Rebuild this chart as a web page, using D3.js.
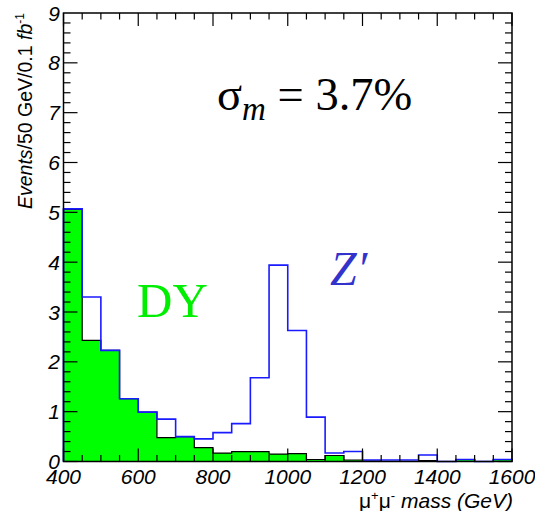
<!DOCTYPE html>
<html><head><meta charset="utf-8">
<script src="https://cdn.jsdelivr.net/npm/d3@7"></script>
<style>body{margin:0;background:#fff}</style>
</head><body>
<script>
const binEdges = [400,450,500,550,600,650,700,750,800,850,900,950,1000,1050,1100,1150,1200,1250,1300,1350,1400,1450,1500,1550,1600];
const dyValues = [5.06,2.43,2.23,1.26,0.99,0.48,0.50,0.28,0.17,0.20,0.20,0.15,0.16,0.04,0.12,0.03,0.01,0,0,0.02,0,0.04,0,0.04];
const totalValues = [5.07,3.30,2.23,1.26,0.99,0.85,0.50,0.455,0.58,0.76,1.68,3.94,2.63,0.89,0.17,0.20,0.03,0.03,0.03,0.13,0,0.04,0,0.04];
const xTicks = [400,600,800,1000,1200,1400,1600];
const yTicks = [0,1,2,3,4,5,6,7,8,9];

const W = 535, H = 511;
const svg = d3.select("body").append("svg").attr("width", W).attr("height", H);
const L = 63.5, R = 512, T = 13, B = 461.5;
const x = d3.scaleLinear().domain([400,1600]).range([L,R]);
const y = d3.scaleLinear().domain([0,9]).range([B,T]);

const n = dyValues.length;
// DY fill
const areaPts = dyValues.map((v,i)=>[binEdges[i], v]).concat([[binEdges[n], dyValues[n-1]]]);
svg.append("path")
  .attr("d", d3.area().x(d=>x(d[0])).y0(y(0)).y1(d=>y(d[1])).curve(d3.curveStepAfter)(areaPts))
  .attr("fill", "#00ff00");
function outlinePts(vals){
  const p = [[binEdges[0],0]];
  vals.forEach((v,i)=>p.push([binEdges[i], v]));
  p.push([binEdges[n], 0]);
  return p;
}
const line = d3.line().x(d=>x(d[0])).y(d=>y(d[1])).curve(d3.curveStepAfter);
svg.append("path").attr("d", line(outlinePts(dyValues)))
  .attr("fill","none").attr("stroke","#000").attr("stroke-width",1.2);
svg.append("path").attr("d", line(outlinePts(totalValues)))
  .attr("fill","none").attr("stroke","#1a1aff").attr("stroke-width",1.6);

// frame
svg.append("rect").attr("x",L).attr("y",T).attr("width",R-L).attr("height",B-T)
  .attr("fill","none").attr("stroke","#000").attr("stroke-width",1.5);

// ticks (inward, all sides)
const g = svg.append("g").attr("stroke","#000").attr("stroke-width",1.2);
d3.range(400,1601,50).forEach(v=>{
  const major = v%200===0;
  const len = major?13:6.5;
  g.append("line").attr("x1",x(v)).attr("x2",x(v)).attr("y1",B).attr("y2",B-len);
  g.append("line").attr("x1",x(v)).attr("x2",x(v)).attr("y1",T).attr("y2",T+len);
});
d3.range(0,45).forEach(k=>{
  const v = k*0.2;
  const major = k%5===0;
  const len = major?14:7;
  g.append("line").attr("x1",L).attr("x2",L+len).attr("y1",y(v)).attr("y2",y(v));
  g.append("line").attr("x1",R).attr("x2",R-len).attr("y1",y(v)).attr("y2",y(v));
});

// tick labels
const tf = "'Liberation Sans', Arial, sans-serif";
svg.append("g").selectAll("text").data(xTicks).join("text")
  .attr("x",d=>x(d)).attr("y",484).attr("text-anchor","middle")
  .attr("font-family",tf).attr("font-style","italic").attr("font-size",21).text(d=>d);
svg.append("g").selectAll("text").data(yTicks).join("text")
  .attr("x",60).attr("y",d=>y(d)+7.5).attr("text-anchor","end")
  .attr("font-family",tf).attr("font-style","italic").attr("font-size",21).text(d=>d);

// x title
const xt = svg.append("text").attr("x",R+1).attr("y",508).attr("text-anchor","end")
  .attr("font-family",tf).attr("font-size",21);
xt.append("tspan").text("μ");
xt.append("tspan").attr("dy",-8).attr("font-size",13).text("+");
xt.append("tspan").attr("dy",8).text("μ");
xt.append("tspan").attr("dy",-8).attr("font-size",13).text("-");
xt.append("tspan").attr("dy",8).attr("font-style","italic").text(" mass (GeV)");

// y title
const yt = svg.append("text").attr("transform","translate(32,13) rotate(-90)")
  .attr("text-anchor","end").attr("font-family",tf).attr("font-size",19.5);
yt.append("tspan").attr("font-style","italic").text("Events");
yt.append("tspan").text("/50 GeV/0.1 ");
yt.append("tspan").attr("font-style","italic").text("fb");
yt.append("tspan").attr("dy",-8).attr("font-size",12).text("-1");

// annotations
const sf = "'Liberation Serif', 'Times New Roman', serif";
const st = svg.append("text").attr("x",217).attr("y",110).attr("font-family",sf).attr("font-size",46.5);
st.append("tspan").text("σ");
st.append("tspan").attr("dy",10).attr("font-size",33).attr("font-style","italic").text("m");
st.append("tspan").attr("dy",-10).text(" = 3.7%");

svg.append("text").attr("x",137).attr("y",317).attr("font-family",sf).attr("font-size",49)
  .attr("fill","#00ee00").text("DY");
svg.append("text").attr("x",330).attr("y",285).attr("font-family",sf).attr("font-size",48)
  .attr("font-style","italic").attr("fill","#3333cc").text("Z′");
</script>
</body></html>
